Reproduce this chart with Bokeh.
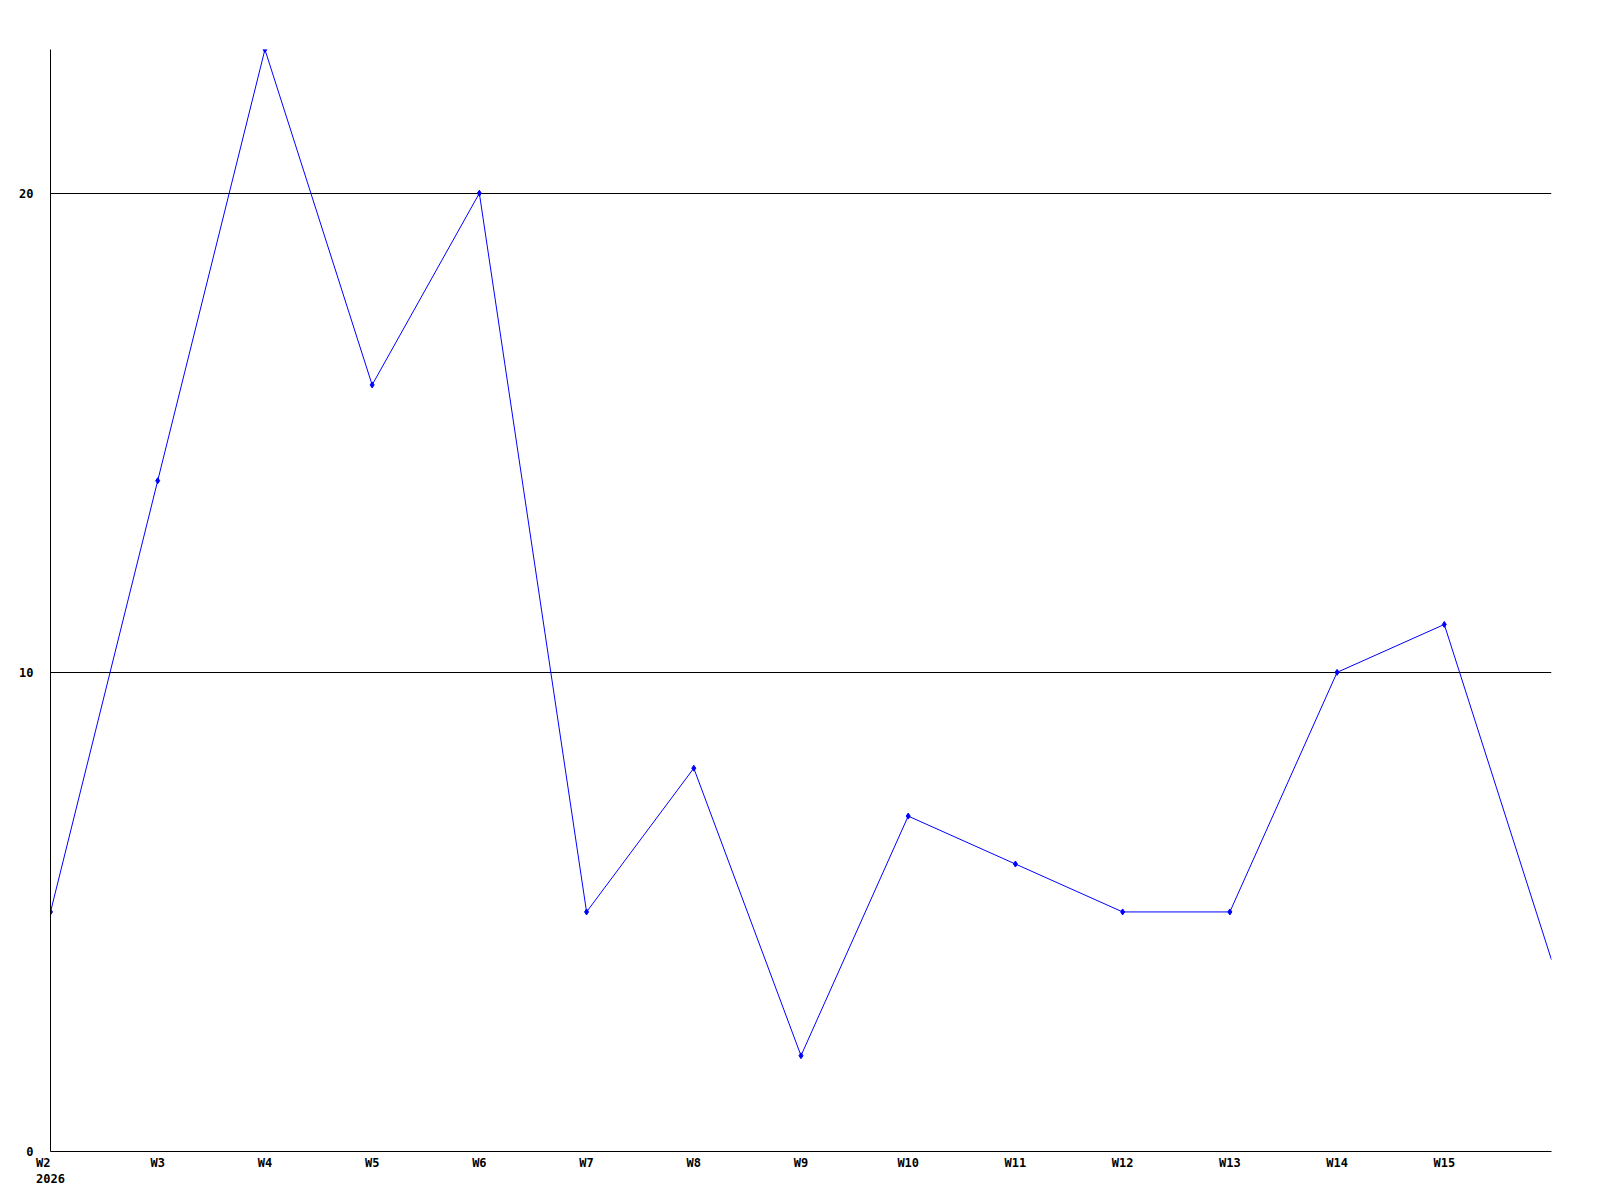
from bokeh.plotting import figure
from bokeh.models import Range1d, FixedTicker
from bokeh.embed import file_html
from bokeh.resources import INLINE

weeks = [2, 3, 4, 5, 6, 7, 8, 9, 10, 11, 12, 13, 14, 15, 16]
values = [5, 14, 23, 16, 20, 5, 8, 2, 7, 6, 5, 5, 10, 11, 4]
tick_weeks = [2, 3, 4, 5, 6, 7, 8, 9, 10, 11, 12, 13, 14, 15]
tick_labels = ["W" + str(w) for w in tick_weeks]
year_label = "2026"
y_ticks = [0, 10, 20]

FONT = "DejaVu Sans Mono"

p = figure(width=1592, height=1193, output_backend="svg", toolbar_location=None,
           x_range=Range1d(2, 16), y_range=Range1d(0, 23),
           min_border_left=50, min_border_right=41, min_border_top=49, min_border_bottom=42)
p.outline_line_color = None
p.xgrid.grid_line_color = None
p.ygrid.grid_line_color = "black"
p.ygrid.grid_line_alpha = 1.0
p.ygrid.ticker = FixedTicker(ticks=y_ticks)

overrides = {w: l for w, l in zip(tick_weeks, tick_labels)}
overrides[tick_weeks[0]] = tick_labels[0] + "  \n" + year_label
p.xaxis.ticker = FixedTicker(ticks=tick_weeks)
p.xaxis.major_label_overrides = overrides
p.yaxis.ticker = FixedTicker(ticks=y_ticks)
for ax in (p.xaxis, p.yaxis):
    ax.axis_line_color = "black"
    ax.major_tick_line_color = None
    ax.minor_tick_line_color = None
    ax.major_label_text_font = FONT
    ax.major_label_text_font_style = "bold"
    ax.major_label_text_font_size = "12px"
    ax.major_label_text_color = "black"
p.xaxis.major_label_standoff = -2
p.yaxis.major_label_standoff = 11

p.line(weeks, values, line_color="blue", line_width=1)
p.scatter(weeks[:-1], values[:-1], marker="diamond", size=6, color="blue")

open("out.html", "w").write(file_html(p, INLINE))
